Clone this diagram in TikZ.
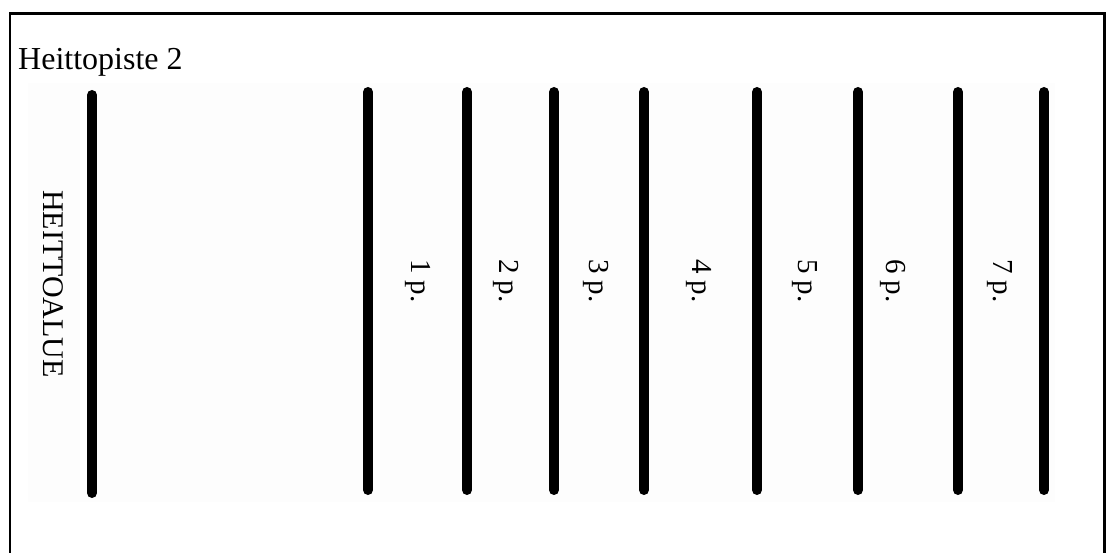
\documentclass[tikz,border=0pt]{standalone}
\usepackage{fontspec}
\setmainfont{Liberation Serif}
\usetikzlibrary{calc}

\begin{document}
\begin{tikzpicture}[x=1pt,y=-1pt,
  lane/.style={line width=10pt,line cap=round},
  score/.style={rotate=-90,font=\fontsize{29}{32}\selectfont},
  frame/.style={line width=2.3pt}]
\useasboundingbox (0,0) rectangle (1106,553);
\fill[black!0.6] (28,83) rectangle (1055,502);
\draw[frame] (10,553) -- (10,13.5) -- (1104.5,13.5) -- (1104.5,553);
\node[anchor=base west,inner sep=0pt,font=\fontsize{32}{36}\selectfont] (title) at (18,70) {Heittopiste 2};
\coordinate (t0) at (92,95);
\coordinate (b0) at (92,493);
\draw[lane] (t0) -- (b0);
\node[rotate=-90,font=\fontsize{30}{34}\selectfont] (area) at (53,284) {HEITTOALUE};
\foreach \x [count=\i] in {368,467,554,644,757,858,958,1044} {
  \coordinate (t\i) at (\x,92);
  \coordinate (b\i) at (\x,490);
  \draw[lane] (t\i) -- (b\i);
}
\foreach \lx [count=\i] in {418,506,596,699,805,893,1000} {
  \node[score] (p\i) at (\lx,281) {\i{} p.};
}
\end{tikzpicture}
\end{document}
